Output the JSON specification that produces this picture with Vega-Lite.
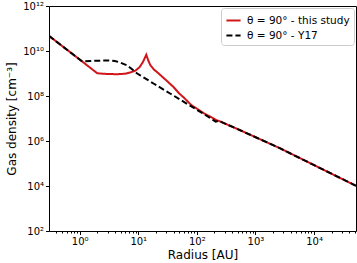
{
  "$schema": "https://vega.github.io/schema/vega-lite/v6.json",
  "autosize": "none",
  "width": 307,
  "height": 225,
  "padding": {"left": 49, "top": 6, "right": 1, "bottom": 32},
  "background": "white",
  "config": {
    "font": "DejaVu Sans",
    "view": {"stroke": "black", "strokeWidth": 1},
    "axis": {"domain": false, "grid": false, "tickColor": "black", "labelColor": "black", "titleColor": "black", "labelFont": "DejaVu Sans", "titleFont": "DejaVu Sans", "titleFontWeight": "normal", "labelFontSize": 10, "titleFontSize": 12}
  },
  "data": {"values": [
    {"r": 0.3, "n": 4.7e10, "s": "θ = 90° - this study"},
    {"r": 1.11, "n": 3.4e9, "s": "θ = 90° - this study"},
    {"r": 2.0, "n": 1.02e9, "s": "θ = 90° - this study"},
    {"r": 3.0, "n": 9.5e8, "s": "θ = 90° - this study"},
    {"r": 4.5, "n": 9.3e8, "s": "θ = 90° - this study"},
    {"r": 6.0, "n": 9.8e8, "s": "θ = 90° - this study"},
    {"r": 7.4, "n": 1.12e9, "s": "θ = 90° - this study"},
    {"r": 9.0, "n": 1.35e9, "s": "θ = 90° - this study"},
    {"r": 10.5, "n": 1.9e9, "s": "θ = 90° - this study"},
    {"r": 12.0, "n": 3.2e9, "s": "θ = 90° - this study"},
    {"r": 13.7, "n": 6.8e9, "s": "θ = 90° - this study"},
    {"r": 15.0, "n": 3.5e9, "s": "θ = 90° - this study"},
    {"r": 16.2, "n": 2.3e9, "s": "θ = 90° - this study"},
    {"r": 18.5, "n": 1.5e9, "s": "θ = 90° - this study"},
    {"r": 21, "n": 1.15e9, "s": "θ = 90° - this study"},
    {"r": 30, "n": 5.0e8, "s": "θ = 90° - this study"},
    {"r": 40, "n": 2.5e8, "s": "θ = 90° - this study"},
    {"r": 50, "n": 1.3e8, "s": "θ = 90° - this study"},
    {"r": 60, "n": 8.5e7, "s": "θ = 90° - this study"},
    {"r": 80, "n": 4.0e7, "s": "θ = 90° - this study"},
    {"r": 130, "n": 1.75e7, "s": "θ = 90° - this study"},
    {"r": 222, "n": 8.2e6, "s": "θ = 90° - this study"},
    {"r": 236, "n": 7.9e6, "s": "θ = 90° - this study"},
    {"r": 550, "n": 3.0e6, "s": "θ = 90° - this study"},
    {"r": 2600, "n": 4.8e5, "s": "θ = 90° - this study"},
    {"r": 52000, "n": 1.02e4, "s": "θ = 90° - this study"},
    {"r": 0.3, "n": 4.7e10, "s": "θ = 90° - Y17"},
    {"r": 1.11, "n": 3.4e9, "s": "θ = 90° - Y17"},
    {"r": 1.5, "n": 3.6e9, "s": "θ = 90° - Y17"},
    {"r": 2.2, "n": 3.7e9, "s": "θ = 90° - Y17"},
    {"r": 3.0, "n": 3.8e9, "s": "θ = 90° - Y17"},
    {"r": 4.0, "n": 3.6e9, "s": "θ = 90° - Y17"},
    {"r": 4.7, "n": 3.2e9, "s": "θ = 90° - Y17"},
    {"r": 6.5, "n": 2.3e9, "s": "θ = 90° - Y17"},
    {"r": 9.6, "n": 1.0e9, "s": "θ = 90° - Y17"},
    {"r": 11, "n": 8.1e8, "s": "θ = 90° - Y17"},
    {"r": 18.5, "n": 3.5e8, "s": "θ = 90° - Y17"},
    {"r": 35.5, "n": 1.26e8, "s": "θ = 90° - Y17"},
    {"r": 68, "n": 4.5e7, "s": "θ = 90° - Y17"},
    {"r": 131, "n": 1.6e7, "s": "θ = 90° - Y17"},
    {"r": 210, "n": 7.2e6, "s": "θ = 90° - Y17"},
    {"r": 236, "n": 7.9e6, "s": "θ = 90° - Y17"},
    {"r": 550, "n": 3.0e6, "s": "θ = 90° - Y17"},
    {"r": 2600, "n": 4.8e5, "s": "θ = 90° - Y17"},
    {"r": 52000, "n": 1.02e4, "s": "θ = 90° - Y17"}
  ]},
  "mark": {"type": "line", "strokeWidth": 2, "clip": true},
  "encoding": {
    "x": {
      "field": "r", "type": "quantitative",
      "scale": {"type": "log", "domain": [0.3, 52000], "nice": false},
      "title": "Radius [AU]",
      "axis": {
        "values": [0.4,0.5,0.6,0.7,0.8,0.9,1,2,3,4,5,6,7,8,9,10,20,30,40,50,60,70,80,90,100,200,300,400,500,600,700,800,900,1000,2000,3000,4000,5000,6000,7000,8000,9000,10000,20000,30000,40000,50000],
        "labelExpr": "abs(log(datum.value)/LN10 - round(log(datum.value)/LN10)) < 1e-6 ? '10' + substring('⁰¹²³⁴⁵⁶⁷⁸⁹', round(log(datum.value)/LN10), round(log(datum.value)/LN10)+1) : ''",
        "tickSize": {"condition": {"test": "abs(log(datum.value)/LN10 - round(log(datum.value)/LN10)) < 1e-6", "value": 3.5}, "value": 2},
        "labelOverlap": false,
        "labelFlush": false,
        "labelPadding": 2,
        "titlePadding": 3
      }
    },
    "y": {
      "field": "n", "type": "quantitative",
      "scale": {"type": "log", "domain": [100, 1e12], "nice": false},
      "title": "Gas density [cm⁻³]",
      "axis": {
        "values": [100, 10000, 1000000, 100000000, 10000000000, 1000000000000],
        "labelExpr": "'10' + (round(log(datum.value)/LN10) >= 10 ? '¹' + substring('⁰¹²³⁴⁵⁶⁷⁸⁹', round(log(datum.value)/LN10)-10, round(log(datum.value)/LN10)-9) : substring('⁰¹²³⁴⁵⁶⁷⁸⁹', round(log(datum.value)/LN10), round(log(datum.value)/LN10)+1))",
        "tickSize": 3.5,
        "labelOverlap": false,
        "labelFlush": false,
        "labelPadding": 2,
        "titlePadding": 4
      }
    },
    "color": {
      "field": "s", "type": "nominal",
      "scale": {"domain": ["θ = 90° - this study", "θ = 90° - Y17"], "range": ["#d0161b", "#000000"]},
      "legend": {
        "title": null, "orient": "top-right", "offset": 2,
        "symbolType": "stroke", "symbolStrokeWidth": 2, "symbolSize": 200,
        "labelFontSize": 10.5, "labelFont": "DejaVu Sans", "labelColor": "black",
        "fillColor": "white", "strokeColor": "#cccccc", "cornerRadius": 3, "padding": 4,
        "rowPadding": 1, "labelOffset": 5
      }
    },
    "strokeDash": {
      "field": "s", "type": "nominal",
      "scale": {"domain": ["θ = 90° - this study", "θ = 90° - Y17"], "range": [[1, 0], [6, 3]]},
      "legend": {
        "title": null, "orient": "top-right", "offset": 2,
        "symbolType": "stroke", "symbolStrokeWidth": 2, "symbolSize": 200,
        "labelFontSize": 10.5, "labelFont": "DejaVu Sans", "labelColor": "black",
        "fillColor": "white", "strokeColor": "#cccccc", "cornerRadius": 3, "padding": 4,
        "rowPadding": 1, "labelOffset": 5
      }
    }
  }
}
